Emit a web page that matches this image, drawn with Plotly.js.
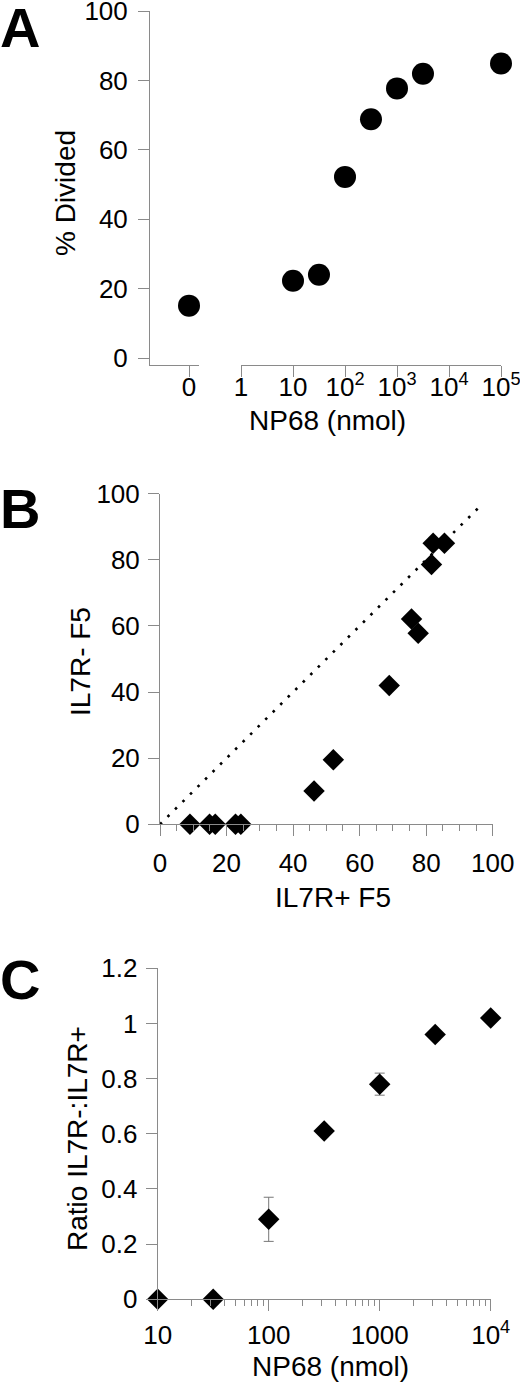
<!DOCTYPE html>
<html>
<head>
<meta charset="utf-8">
<script src="https://cdn.plot.ly/plotly-3.0.1.min.js"></script>
<style>
html,body{margin:0;padding:0;background:#fff;}
#chart{width:520px;height:1387px;}
</style>
</head>
<body>
<div id="chart"></div>
<script>
// ---------- DATA ----------
// Panel A
const A_doseZero = [0];
const A_pctZero = [15.1];
const A_dose = [10, 31.6, 100, 316, 1000, 3160, 100000];
const A_pct = [22.3, 24.0, 52.2, 68.8, 77.7, 81.9, 84.9];
const A_logTickVals = [1, 10, 100, 1000, 10000, 100000];
const A_logTickText = ['1', '10', '10<sup>2</sup>', '10<sup>3</sup>', '10<sup>4</sup>', '10<sup>5</sup>'];
const A_yTicks = [0, 20, 40, 60, 80, 100];

// Panel B
const B_x = [9.0, 14.9, 16.6, 22.7, 24.3, 46.3, 52.1, 68.9, 75.6, 77.6, 81.6, 82.1, 85.5];
const B_y = [0, 0, 0, 0, 0, 10.1, 19.5, 42.0, 62.1, 57.8, 78.6, 85.0, 85.0];
const B_lineX = [0, 96];
const B_lineY = [0, 96];

// Panel C
const C_dose = [10, 31.6, 100, 316, 1000, 3160, 10000];
const C_ratio = [0, 0, 0.29, 0.61, 0.78, 0.96, 1.02];
const C_errPlus = [0, 0, 0.08, 0, 0.04, 0, 0];
const C_errMinus = [0, 0, 0.08, 0, 0.04, 0, 0];
const C_tickVals = [10, 100, 1000, 10000];
const C_tickText = ['10', '100', '1000', '10<sup>4</sup>'];
const C_minorVals = [20, 30, 40, 50, 60, 70, 80, 90, 200, 300, 400, 500, 600, 700, 800, 900, 2000, 3000, 4000, 5000, 6000, 7000, 8000, 9000];

// ---------- LAYOUT HELPERS ----------
const W = 520, H = 1387;
const px = v => v / W;
const py = v => 1 - v / H;
const FONT = '"Liberation Sans", Arial, Helvetica, sans-serif';
const AX = '#8a8a8a';
const tickFont = {family: FONT, size: 26, color: '#000'};
const titleFont = {family: FONT, size: 28, color: '#000'};
const letterFont = {family: FONT, size: 56, color: '#000', weight: 'bold'};

const baseAxis = {
  showline: true, linecolor: AX, linewidth: 1,
  ticks: 'outside', ticklen: 11, tickcolor: AX, tickwidth: 1,
  showgrid: false, zeroline: false, tickfont: tickFont, fixedrange: true,
  ticklabeloverflow: 'allow', automargin: false
};

const traces = [
  // A
  {x: A_doseZero, y: A_pctZero, xaxis: 'x', yaxis: 'y', type: 'scatter', mode: 'markers',
   marker: {symbol: 'circle', size: 22, color: '#000'}, cliponaxis: false, hoverinfo: 'skip'},
  {x: A_dose, y: A_pct, xaxis: 'x2', yaxis: 'y', type: 'scatter', mode: 'markers',
   marker: {symbol: 'circle', size: 22, color: '#000'}, cliponaxis: false, hoverinfo: 'skip'},
  // B
  {x: B_lineX, y: B_lineY, xaxis: 'x3', yaxis: 'y2', type: 'scatter', mode: 'lines',
   line: {color: '#000', width: 2.6, dash: '2.6px,8px'}, cliponaxis: false, hoverinfo: 'skip'},
  {x: B_x, y: B_y, xaxis: 'x3', yaxis: 'y2', type: 'scatter', mode: 'markers',
   marker: {symbol: 'diamond', size: 16.5, color: '#000'}, cliponaxis: false, hoverinfo: 'skip'},
  // C
  {x: C_dose, y: C_ratio, xaxis: 'x4', yaxis: 'y3', type: 'scatter', mode: 'markers',
   marker: {symbol: 'diamond', size: 16.5, color: '#000'}, cliponaxis: false, hoverinfo: 'skip',
   error_y: {type: 'data', symmetric: false, array: C_errPlus, arrayminus: C_errMinus,
             color: '#777', thickness: 1, width: 5}}
];

const layout = {
  width: W, height: H,
  margin: {l: 0, r: 0, t: 0, b: 0},
  paper_bgcolor: '#fff', plot_bgcolor: 'rgba(0,0,0,0)',
  showlegend: false,
  font: {family: FONT, color: '#000'},
  // Panel A
  yaxis: Object.assign({}, baseAxis, {
    domain: [py(365), py(11)], range: [-2.0, 100], anchor: 'x',
    tickvals: A_yTicks, ticklabelstandoff: 5
  }),
  xaxis: Object.assign({}, baseAxis, {
    domain: [px(150), px(199)], range: [-3.9, 1], anchor: 'y',
    tickvals: A_doseZero, ticktext: ['0'], ticklabelstandoff: -12
  }),
  xaxis2: Object.assign({}, baseAxis, {
    type: 'log', domain: [px(241), px(501)], range: [0, 5], anchor: 'y',
    tickvals: A_logTickVals, ticktext: A_logTickText, ticklabelstandoff: -12
  }),
  // Panel B
  yaxis2: Object.assign({}, baseAxis, {
    domain: [py(824.3), py(493.7)], range: [0, 100], anchor: 'x3',
    tickvals: A_yTicks, ticklabelstandoff: 3
  }),
  xaxis3: Object.assign({}, baseAxis, {
    domain: [px(160), px(492.7)], range: [0, 100], anchor: 'y2',
    tickmode: 'linear', tick0: 0, dtick: 20, ticklabelstandoff: 4,
    minor: {ticks: 'outside', ticklen: 6, tickcolor: AX, tickwidth: 1, dtick: 5, tick0: 0, showgrid: false}
  }),
  // Panel C
  yaxis3: Object.assign({}, baseAxis, {
    domain: [py(1299.3), py(968.3)], range: [0, 1.2], anchor: 'x4',
    tickmode: 'linear', tick0: 0, dtick: 0.2, ticklabelstandoff: 3
  }),
  xaxis4: Object.assign({}, baseAxis, {
    type: 'log', domain: [px(157.7), px(490.7)], range: [1, 4], anchor: 'y3',
    tickvals: C_tickVals, ticktext: C_tickText, ticklabelstandoff: 1,
    minor: {ticks: 'outside', ticklen: 6, tickcolor: AX, tickwidth: 1, tickmode: 'array', tickvals: C_minorVals, showgrid: false}
  }),
  annotations: [
    // panel letters
    {text: '<b>A</b>', xref: 'paper', yref: 'paper', x: px(-2), y: py(27), xanchor: 'left', yanchor: 'middle', showarrow: false, font: letterFont},
    {text: '<b>B</b>', xref: 'paper', yref: 'paper', x: px(-2), y: py(509), xanchor: 'left', yanchor: 'middle', showarrow: false, font: letterFont},
    {text: '<b>C</b>', xref: 'paper', yref: 'paper', x: px(-2), y: py(979), xanchor: 'left', yanchor: 'middle', showarrow: false, font: letterFont},
    // axis titles
    {text: '% Divided', xref: 'paper', yref: 'paper', x: px(66), y: py(193), textangle: -90, xanchor: 'center', yanchor: 'middle', showarrow: false, font: titleFont},
    {text: 'NP68 (nmol)', xref: 'paper', yref: 'paper', x: px(327), y: py(420), xanchor: 'center', yanchor: 'middle', showarrow: false, font: titleFont},
    {text: 'IL7R- F5', xref: 'paper', yref: 'paper', x: px(80), y: py(662), textangle: -90, xanchor: 'center', yanchor: 'middle', showarrow: false, font: titleFont},
    {text: 'IL7R+ F5', xref: 'paper', yref: 'paper', x: px(333), y: py(897), xanchor: 'center', yanchor: 'middle', showarrow: false, font: titleFont},
    {text: 'Ratio IL7R-:IL7R+', xref: 'paper', yref: 'paper', x: px(77), y: py(1139), textangle: -90, xanchor: 'center', yanchor: 'middle', showarrow: false, font: titleFont},
    {text: 'NP68 (nmol)', xref: 'paper', yref: 'paper', x: px(330), y: py(1366), xanchor: 'center', yanchor: 'middle', showarrow: false, font: titleFont}
  ]
};

Plotly.newPlot('chart', traces, layout, {staticPlot: true, displayModeBar: false});
</script>
</body>
</html>
